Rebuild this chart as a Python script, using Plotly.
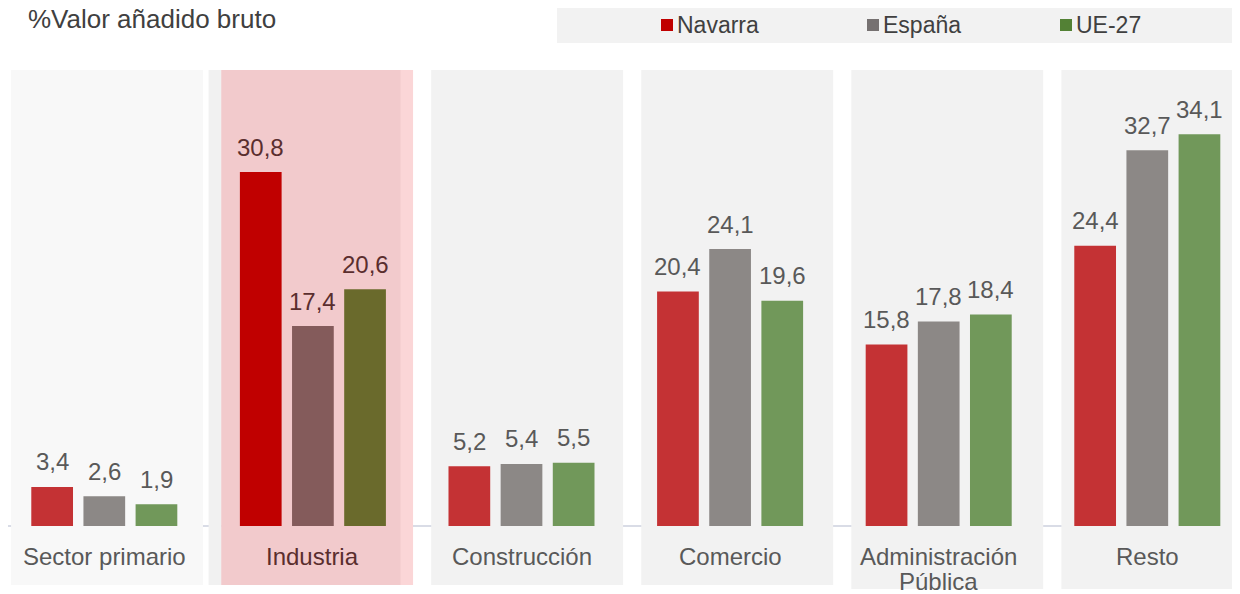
import plotly.graph_objects as go

# ---------------- data ----------------
categories = ["Sector primario", "Industria", "Construcción", "Comercio",
              "Administración<br>Pública", "Resto"]
series_names = ["Navarra", "España", "UE-27"]
navarra = [3.4, 30.8, 5.2, 20.4, 15.8, 24.4]
espana = [2.6, 17.4, 5.4, 24.1, 17.8, 32.7]
ue27 = [1.9, 20.6, 5.5, 19.6, 18.4, 34.1]
title_text = "%Valor añadido bruto"
highlight = "Industria"

# ---------------- style ----------------
PAGE_OFF = 8            # default body margin of the html page
W, H = 1240 - PAGE_OFF, 594 - PAGE_OFF
FONT = "Liberation Sans, Arial, sans-serif"
base_colors = ["#c43234", "#8c8886", "#71985a"]
hi_colors = ["#c00000", "#845b5b", "#6a6a2c"]
legend_colors = ["#c00000", "#767171", "#538135"]
TEXT = "#595959"
HI_TEXT = "#5a2e2e"
offsets = [-0.25, 0.0, 0.25]
BAR_W = 0.2
LABEL_LINE_PX = 25

# screen-pixel helpers (screen = figure + PAGE_OFF)
PPU = 11.49            # pixels per unit on y
Y0PX = 526             # screen pixel of y = 0
PPC = 208.6            # pixels per category on x
X0PX = 104.3           # screen pixel of category 0
y_range = [-(PAGE_OFF + H - Y0PX) / PPU, (Y0PX - PAGE_OFF) / PPU]
x_left = (PAGE_OFF - X0PX) / PPC
x_range = [x_left, x_left + W / PPC]


def pxx(xp):
    return (xp - PAGE_OFF) / W


def pxy(yp):
    return 1 - (yp - PAGE_OFF) / H


def ydat(yp):
    return (Y0PX - yp) / PPU


fig = go.Figure()
all_series = [navarra, espana, ue27]
n = len(categories)
hi_idx = [i for i, c in enumerate(categories) if c == highlight]

for j, (name, vals) in enumerate(zip(series_names, all_series)):
    xs = [i + offsets[j] for i in range(n)]
    cols = [hi_colors[j] if i in hi_idx else base_colors[j] for i in range(n)]
    fig.add_trace(go.Bar(
        x=xs, y=vals, width=BAR_W, name=name,
        marker=dict(color=cols, line=dict(width=0)),
        showlegend=False, hoverinfo="skip",
    ))
    for i, v in enumerate(vals):
        fig.add_annotation(
            x=xs[i], y=v, xref="x", yref="y",
            text=f"{v:.1f}".replace(".", ","),
            showarrow=False, yanchor="middle", yshift=25,
            font=dict(family=FONT, size=24,
                      color=HI_TEXT if i in hi_idx else TEXT),
        )

# category labels (one annotation per line, tighter line spacing)
for i, c in enumerate(categories):
    for k, line in enumerate(c.split("<br>")):
        fig.add_annotation(
            x=i, y=ydat(556), xref="x", yref="y", text=line, showarrow=False,
            yanchor="middle", xanchor="center", yshift=-LABEL_LINE_PX * k,
            font=dict(family=FONT, size=24,
                      color=HI_TEXT if i in hi_idx else TEXT),
        )

# panels behind each category
shapes = []
for i, c in enumerate(categories):
    x0 = i * 1.007 - 0.447
    x1 = x0 + 0.92
    ybot = ydat(589) if i >= 4 else ydat(585)
    if i in hi_idx:
        fill = "#f2cacc"
    elif i == 0:
        fill = "#f8f8f8"
    else:
        fill = "#f2f2f2"
    shapes.append(dict(type="rect", xref="x", yref="y", x0=x0, x1=x1,
                       y0=ybot, y1=ydat(70), fillcolor=fill,
                       line=dict(width=0), layer="below"))
    if i in hi_idx:
        shapes.append(dict(type="rect", xref="x", yref="y", x0=x1 - 0.06, x1=x1,
                           y0=ybot, y1=ydat(70), fillcolor="#fbd6d7",
                           line=dict(width=0), layer="below"))
        shapes.append(dict(type="rect", xref="x", yref="y", x0=x0 - 0.06, x1=x0,
                           y0=ybot, y1=ydat(70), fillcolor="#f1f1f1",
                           line=dict(width=0), layer="below"))

# baseline
shapes.append(dict(type="line", xref="paper", yref="y", x0=0, x1=1, y0=0, y1=0,
                   line=dict(color="rgba(185,192,210,0.55)", width=2), layer="below"))

# legend background
shapes.append(dict(type="rect", xref="paper", yref="paper",
                   x0=pxx(557), x1=pxx(1240), y0=pxy(43), y1=pxy(8),
                   fillcolor="#f2f2f2", line=dict(width=0), layer="below"))

legend_sq = [667, 873, 1066]
for k, (name, col) in enumerate(zip(series_names, legend_colors)):
    cx = legend_sq[k]
    shapes.append(dict(type="rect", xref="paper", yref="paper",
                       x0=pxx(cx - 6), x1=pxx(cx + 6), y0=pxy(31), y1=pxy(19),
                       fillcolor=col, line=dict(width=0), layer="above"))
    fig.add_annotation(x=pxx(cx + 8), y=pxy(25), xref="paper", yref="paper",
                       text=name, showarrow=False, xanchor="left", yanchor="middle",
                       font=dict(family=FONT, size=23, color="#404040"))

fig.add_annotation(x=pxx(26), y=pxy(19), xref="paper", yref="paper",
                   text=title_text, showarrow=False, xanchor="left", yanchor="middle",
                   font=dict(family=FONT, size=26, color="#404040"))

fig.update_layout(
    width=W, height=H,
    margin=dict(l=0, r=0, t=0, b=0),
    paper_bgcolor="white", plot_bgcolor="rgba(0,0,0,0)",
    barmode="overlay",
    shapes=shapes,
    xaxis=dict(range=x_range, visible=False, fixedrange=True),
    yaxis=dict(range=y_range, visible=False, fixedrange=True),
    showlegend=False,
)

fig.write_html("out.html")
